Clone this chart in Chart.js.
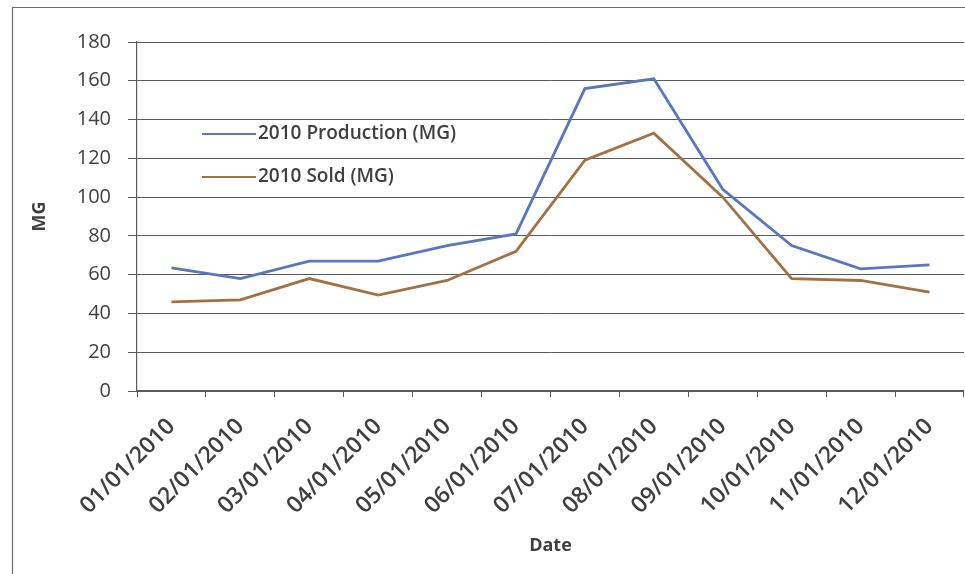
<!DOCTYPE html>
<html>
<head>
<meta charset="utf-8">
<script src="https://cdn.jsdelivr.net/npm/chart.js@4/dist/chart.umd.min.js"></script>
<style>
  html, body { margin: 0; padding: 0; background: #ffffff; }
  #wrap { width: 965px; height: 574px; position: relative; }
</style>
</head>
<body>
<div id="wrap"><canvas id="chart" width="965" height="574"></canvas></div>
<script>
// Monthly dates for 2010
const dates = ['01/01/2010','02/01/2010','03/01/2010','04/01/2010','05/01/2010','06/01/2010',
               '07/01/2010','08/01/2010','09/01/2010','10/01/2010','11/01/2010','12/01/2010'];

// Million gallons produced and sold each month
const production = [63.5, 58, 67, 67, 75, 81, 156, 161, 104, 75, 63, 65];
const sold       = [46, 47, 58, 49.5, 57, 72, 119, 133, 100, 58, 57, 51];

const seriesNames = ['2010 Production (MG)', '2010 Sold (MG)'];
const yTicks = [0, 20, 40, 60, 80, 100, 120, 140, 160, 180];

const textColor = '#3f3f3f';
const gridColor = '#5a5a5a';
const fontFamily = '"Open Sans", Lato, "Liberation Sans", sans-serif';

// Outer frame around the chart
const framePlugin = {
  id: 'frame',
  beforeDraw(chart) {
    const ctx = chart.ctx;
    ctx.save();
    ctx.fillStyle = '#ffffff';
    ctx.fillRect(0, 0, chart.width, chart.height);
    ctx.strokeStyle = '#6b6b6b';
    ctx.lineWidth = 1.2;
    ctx.beginPath();
    ctx.moveTo(12.5, chart.height);
    ctx.lineTo(12.5, 7.5);
    ctx.lineTo(chart.width, 7.5);
    ctx.stroke();
    ctx.restore();
  }
};

// Legend drawn inside the plot area, near the upper left
const innerLegend = {
  id: 'innerLegend',
  afterDatasetsDraw(chart) {
    const ctx = chart.ctx;
    ctx.save();
    ctx.font = '600 19px ' + fontFamily;
    ctx.textBaseline = 'middle';
    ctx.textAlign = 'left';
    const rows = [134, 177];
    chart.data.datasets.forEach((ds, i) => {
      const y = rows[i];
      ctx.strokeStyle = ds.borderColor;
      ctx.lineWidth = 1.8;
      ctx.beginPath();
      ctx.moveTo(202, y);
      ctx.lineTo(256, y);
      ctx.stroke();
      ctx.fillStyle = textColor;
      ctx.fillText(ds.label, 258, y);
    });
    ctx.restore();
  }
};

new Chart(document.getElementById('chart'), {
  type: 'line',
  data: {
    labels: dates,
    datasets: [
      {
        label: seriesNames[0],
        data: production,
        borderColor: '#5877bd',
        backgroundColor: '#5877bd',
        borderWidth: 2.8,
        pointRadius: 0,
        tension: 0
      },
      {
        label: seriesNames[1],
        data: sold,
        borderColor: '#a27245',
        backgroundColor: '#a27245',
        borderWidth: 2.8,
        pointRadius: 0,
        tension: 0
      }
    ]
  },
  options: {
    responsive: false,
    animation: false,
    layout: { padding: { top: 42, left: 14, right: 0, bottom: 0 } },
    plugins: {
      legend: { display: false },
      tooltip: { enabled: false }
    },
    scales: {
      x: {
        offset: true,
        grid: {
          offset: true,
          drawOnChartArea: false,
          drawTicks: true,
          tickLength: 6,
          color: gridColor,
          lineWidth: 1
        },
        border: { display: true, color: gridColor, width: 1.2 },
        ticks: {
          color: textColor,
          font: { family: fontFamily, size: 23, weight: '600' },
          minRotation: 45,
          maxRotation: 45,
          padding: 16,
          autoSkip: false
        },
        title: {
          display: true,
          text: 'Date',
          color: textColor,
          font: { family: fontFamily, size: 18, weight: 'bold' },
          padding: { top: 0, bottom: 17 }
        },
        afterFit(scale) { scale.height = 183; }
      },
      y: {
        min: 0,
        max: 180,
        afterBuildTicks(scale) { scale.ticks = yTicks.map(v => ({ value: v })); },
        grid: {
          color: gridColor,
          lineWidth: 1,
          drawTicks: true,
          tickLength: 9
        },
        border: { display: true, color: gridColor, width: 1.2 },
        ticks: {
          color: textColor,
          font: { family: fontFamily, size: 20 },
          padding: 17
        },
        title: {
          display: true,
          text: 'MG',
          color: textColor,
          font: { family: fontFamily, size: 18, weight: 'bold' },
          padding: { top: 15, bottom: 10 }
        },
        afterFit(scale) { scale.width = 123; }
      }
    }
  },
  plugins: [framePlugin, innerLegend]
});
</script>
</body>
</html>
